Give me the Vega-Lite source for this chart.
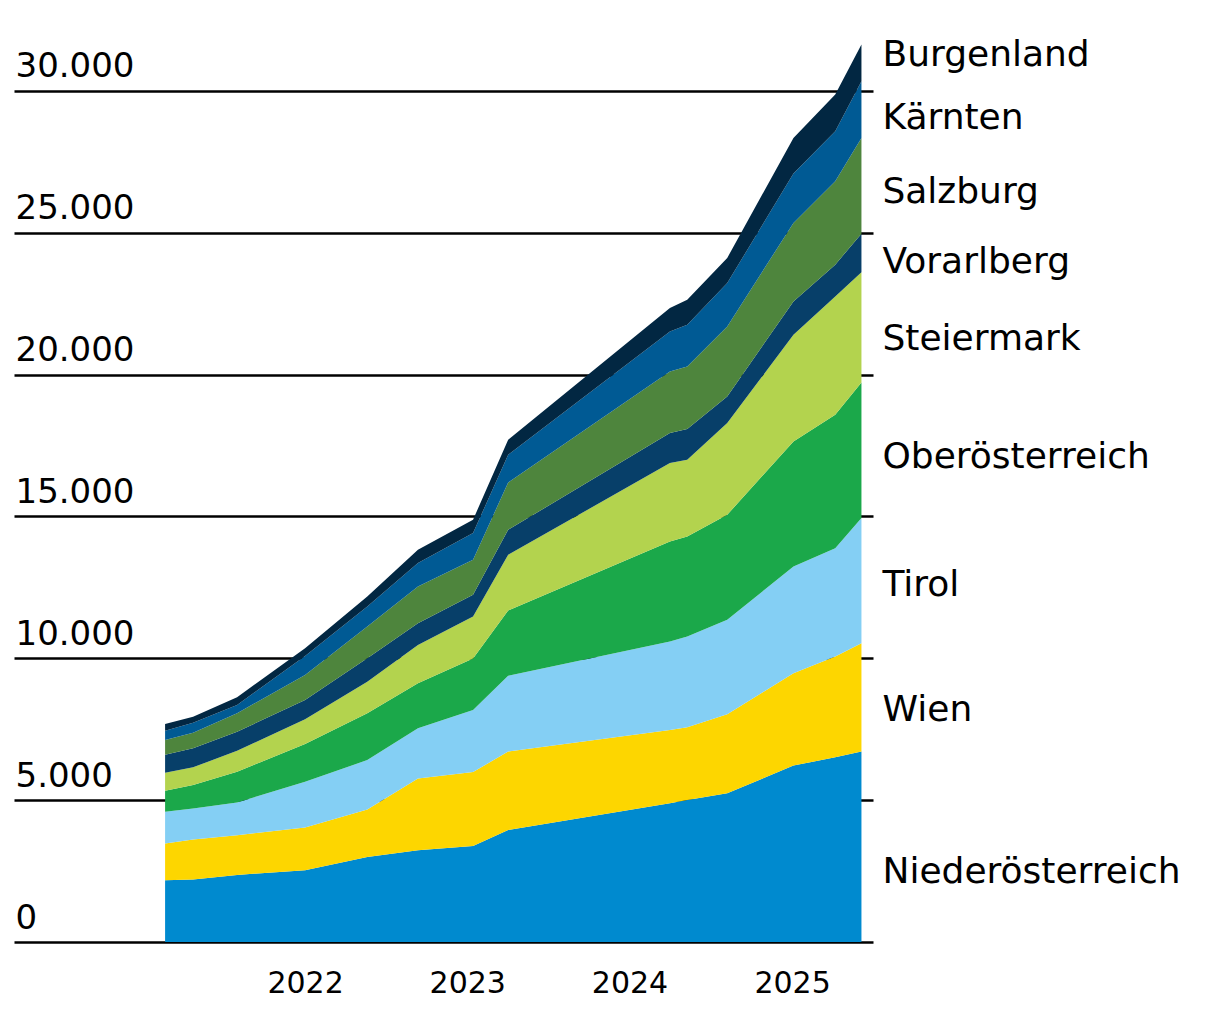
{
  "$schema": "https://vega.github.io/schema/vega-lite/v6.json",
  "autosize": "none",
  "padding": {"left": 14, "top": 34, "right": 342, "bottom": 76},
  "width": 859,
  "height": 908,
  "background": "white",
  "datasets": {
    "stackOrder": [
      {"state": "Niederösterreich", "rank": 1},
      {"state": "Wien", "rank": 2},
      {"state": "Tirol", "rank": 3},
      {"state": "Oberösterreich", "rank": 4},
      {"state": "Steiermark", "rank": 5},
      {"state": "Vorarlberg", "rank": 6},
      {"state": "Salzburg", "rank": 7},
      {"state": "Kärnten", "rank": 8},
      {"state": "Burgenland", "rank": 9}
    ]
  },
  "layer": [
    {
      "data": {
        "values": [
          {"date": "2021-02-20", "Niederösterreich": 2177, "Wien": 1296, "Tirol": 1115, "Oberösterreich": 741, "Steiermark": 635, "Vorarlberg": 635, "Salzburg": 519, "Kärnten": 328, "Burgenland": 237},
          {"date": "2021-04-24", "Niederösterreich": 2202, "Wien": 1412, "Tirol": 1094, "Oberösterreich": 822, "Steiermark": 625, "Vorarlberg": 670, "Salzburg": 551, "Kärnten": 353, "Burgenland": 211},
          {"date": "2021-08-01", "Niederösterreich": 2364, "Wien": 1401, "Tirol": 1154, "Oberösterreich": 1080, "Steiermark": 741, "Vorarlberg": 671, "Salzburg": 649, "Kärnten": 293, "Burgenland": 272},
          {"date": "2022-01-01", "Niederösterreich": 2530, "Wien": 1507, "Tirol": 1609, "Oberösterreich": 1331, "Steiermark": 871, "Vorarlberg": 682, "Salzburg": 882, "Kärnten": 670, "Burgenland": 272},
          {"date": "2022-05-21", "Niederösterreich": 3000, "Wien": 1672, "Tirol": 1740, "Oberösterreich": 1648, "Steiermark": 1115, "Vorarlberg": 826, "Salzburg": 1115, "Kärnten": 706, "Burgenland": 353},
          {"date": "2022-09-12", "Niederösterreich": 3236, "Wien": 2530, "Tirol": 1765, "Oberösterreich": 1588, "Steiermark": 1351, "Vorarlberg": 767, "Salzburg": 1291, "Kärnten": 825, "Burgenland": 469},
          {"date": "2023-01-14", "Niederösterreich": 3385, "Wien": 2605, "Tirol": 2190, "Oberösterreich": 1810, "Steiermark": 1480, "Vorarlberg": 765, "Salzburg": 1234, "Kärnten": 941, "Burgenland": 470},
          {"date": "2023-04-03", "Niederösterreich": 3949, "Wien": 2762, "Tirol": 2668, "Oberösterreich": 2303, "Steiermark": 1963, "Vorarlberg": 882, "Salzburg": 1668, "Kärnten": 977, "Burgenland": 528},
          {"date": "2024-04-01", "Niederösterreich": 4890, "Wien": 2585, "Tirol": 3115, "Oberösterreich": 3525, "Steiermark": 2764, "Vorarlberg": 1057, "Salzburg": 2173, "Kärnten": 1410, "Burgenland": 824},
          {"date": "2024-05-10", "Niederösterreich": 5007, "Wien": 2563, "Tirol": 3196, "Oberösterreich": 3525, "Steiermark": 2704, "Vorarlberg": 1083, "Salzburg": 2207, "Kärnten": 1470, "Burgenland": 882},
          {"date": "2024-08-08", "Niederösterreich": 5243, "Wien": 2787, "Tirol": 3324, "Oberösterreich": 3702, "Steiermark": 3233, "Vorarlberg": 938, "Salzburg": 2469, "Kärnten": 1529, "Burgenland": 882},
          {"date": "2025-01-04", "Niederösterreich": 6217, "Wien": 3257, "Tirol": 3759, "Oberösterreich": 4408, "Steiermark": 3762, "Vorarlberg": 1174, "Salzburg": 2764, "Kärnten": 1739, "Burgenland": 1258},
          {"date": "2025-04-08", "Niederösterreich": 6512, "Wien": 3548, "Tirol": 3821, "Oberösterreich": 4701, "Steiermark": 4171, "Vorarlberg": 1118, "Salzburg": 2937, "Kärnten": 1763, "Burgenland": 1294},
          {"date": "2025-06-06", "Niederösterreich": 6710, "Wien": 3822, "Tirol": 4407, "Oberösterreich": 4782, "Steiermark": 3879, "Vorarlberg": 1364, "Salzburg": 3374, "Kärnten": 1996, "Burgenland": 1294}
        ]
      },
      "transform": [
        {"fold": ["Niederösterreich", "Wien", "Tirol", "Oberösterreich", "Steiermark", "Vorarlberg", "Salzburg", "Kärnten", "Burgenland"], "as": ["state", "n"]},
        {"lookup": "state", "from": {"data": {"name": "stackOrder"}, "key": "state", "fields": ["rank"]}}
      ],
      "mark": {"type": "area", "interpolate": "linear"},
      "encoding": {
        "x": {
          "field": "date",
          "type": "temporal",
          "title": null,
          "scale": {"domain": [{"year": 2020, "month": 3, "date": 17}, {"year": 2025, "month": 7, "date": 2}]},
          "axis": {
            "values": [{"year": 2022}, {"year": 2023}, {"year": 2024}, {"year": 2025}],
            "format": "%Y",
            "grid": false,
            "domain": false,
            "ticks": false,
            "tickSize": 0,
            "labelPadding": 50,
            "labelBaseline": "alphabetic",
            "labelFontSize": 30,
            "labelFont": "DejaVu Sans",
            "labelColor": "black"
          }
        },
        "y": {
          "field": "n",
          "type": "quantitative",
          "stack": "zero",
          "title": null,
          "scale": {"domain": [0, 32000], "nice": false},
          "axis": {
            "values": [0, 5000, 10000, 15000, 20000, 25000, 30000],
            "format": ",d",
            "grid": true,
            "gridColor": "black",
            "gridWidth": 2.5,
            "gridOpacity": 1,
            "domain": false,
            "ticks": false,
            "tickSize": 0,
            "labelAlign": "left",
            "labelBaseline": "alphabetic",
            "labelPadding": -1,
            "labelOffset": -14,
            "labelFlush": false,
            "labelOverlap": false,
            "labelFontSize": 34,
            "labelFont": "DejaVu Sans",
            "labelColor": "black"
          }
        },
        "order": {"field": "rank", "type": "quantitative", "sort": "ascending"},
        "color": {
          "field": "state",
          "type": "nominal",
          "scale": {
            "domain": ["Niederösterreich", "Wien", "Tirol", "Oberösterreich", "Steiermark", "Vorarlberg", "Salzburg", "Kärnten", "Burgenland"],
            "range": ["#008acf", "#fdd600", "#84cff4", "#1ba84a", "#b3d34e", "#073f69", "#4e853d", "#005a94", "#022742"]
          },
          "legend": null
        }
      }
    },
    {
      "data": {
        "values": [
          {"state": "Burgenland", "labelY": 30888},
          {"state": "Kärnten", "labelY": 28666},
          {"state": "Salzburg", "labelY": 26057},
          {"state": "Vorarlberg", "labelY": 23589},
          {"state": "Steiermark", "labelY": 20874},
          {"state": "Oberösterreich", "labelY": 16713},
          {"state": "Tirol", "labelY": 12200},
          {"state": "Wien", "labelY": 7792},
          {"state": "Niederösterreich", "labelY": 2080}
        ]
      },
      "mark": {"type": "text", "align": "left", "baseline": "alphabetic", "dx": 21, "font": "DejaVu Sans", "fontSize": 36, "color": "black"},
      "encoding": {
        "x": {"datum": {"year": 2025, "month": 6, "date": 6}, "type": "temporal"},
        "y": {"field": "labelY", "type": "quantitative"},
        "text": {"field": "state"}
      }
    }
  ],
  "config": {
    "view": {"stroke": null},
    "locale": {"number": {"decimal": ",", "thousands": ".", "grouping": [3], "currency": ["", " €"]}}
  }
}
